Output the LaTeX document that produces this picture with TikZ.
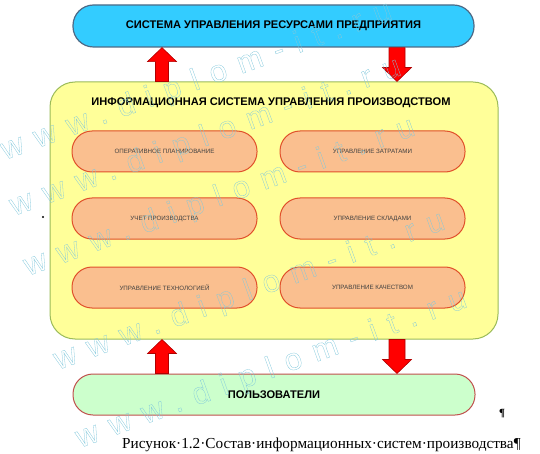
\documentclass[tikz,border=0pt]{standalone}
\usepackage{fontspec}
\setmainfont{Liberation Serif}
\newfontfamily\arialf{Liberation Sans}
\newfontfamily\wmfont[LetterSpace=40, FakeBold=0.9]{Liberation Sans}
\usetikzlibrary{calc}
\definecolor{erpfill}{HTML}{33CCFF}
\definecolor{erpline}{HTML}{4D6A87}
\definecolor{imsfill}{HTML}{FFFF99}
\definecolor{imsline}{HTML}{9BBB59}
\definecolor{pillfill}{HTML}{FABF8F}
\definecolor{pillline}{HTML}{E0502A}
\definecolor{pilltext}{HTML}{404040}
\definecolor{usrfill}{HTML}{CCFFCC}
\definecolor{usrline}{HTML}{C0504D}
\definecolor{arrfill}{HTML}{FF0000}
\definecolor{arrline}{HTML}{B00000}
\definecolor{wmcol}{HTML}{80C8DC}
\newcommand\blockup[3]{%
  \draw[blockarr] let \p1=(#2), \p2=(#3) in
    (#1pt-6.5pt,\y1) -- (#1pt-6.5pt,\y2-14pt) -- (#1pt-14.5pt,\y2-14pt) -- (#1pt,\y2)
    -- (#1pt+14.5pt,\y2-14pt) -- (#1pt+6.5pt,\y2-14pt) -- (#1pt+6.5pt,\y1) -- cycle;}
\newcommand\blockdown[3]{%
  \draw[blockarr] let \p1=(#2), \p2=(#3) in
    (#1pt-8pt,\y1) -- (#1pt-8pt,\y2+14pt) -- (#1pt-14.5pt,\y2+14pt) -- (#1pt,\y2)
    -- (#1pt+14.5pt,\y2+14pt) -- (#1pt+8pt,\y2+14pt) -- (#1pt+8pt,\y1) -- cycle;}
\newcommand\wmtext[1]{{\pgfsetfillopacity{0}\pgfsetstrokeopacity{1}#1}}
\tikzset{
  bigtitle/.style={font=\arialf\bfseries\fontsize{11.1}{13}\selectfont, text=black},
  erpbox/.style={bigtitle, draw=erpline, fill=erpfill, line width=1.2pt,
    rounded corners=20.5pt, minimum width=401pt, minimum height=42pt, inner sep=0pt},
  imsbox/.style={draw=imsline, fill=imsfill, line width=1pt, rounded corners=25pt,
    minimum width=448pt, minimum height=257pt, inner sep=0pt},
  imstitle/.style={bigtitle, inner sep=0pt},
  pill/.style={draw=pillline, fill=pillfill, line width=1pt, rounded corners=20pt,
    minimum width=185pt, minimum height=41pt, inner sep=0pt,
    font=\arialf\fontsize{6.2}{7}\selectfont, text=pilltext},
  usrbox/.style={bigtitle, draw=usrline, fill=usrfill, line width=1pt,
    rounded corners=20pt, minimum width=402pt, minimum height=41pt, inner sep=0pt},
  blockarr/.style={fill=arrfill, draw=arrline, line width=0.6pt},
  captxt/.style={font=\fontsize{15.25}{18}\selectfont, inner sep=0pt, anchor=base west},
  wm/.style={font=\wmfont\fontsize{31}{33}\selectfont, text=wmcol, inner sep=0pt,
    anchor=base west, rotate=20}
}
\begin{document}
\begin{tikzpicture}[x=1pt,y=-1pt]
\fill[white] (0,0) rectangle (540,454);
\useasboundingbox (0,0) rectangle (540,454);
\node[erpbox] (erp) at (273.5,26) {СИСТЕМА УПРАВЛЕНИЯ РЕСУРСАМИ ПРЕДПРИЯТИЯ};
\node[imsbox] (ims) at (274,210.5) {};
\node[imstitle] (imst) at (271,103) {ИНФОРМАЦИОННАЯ СИСТЕМА УПРАВЛЕНИЯ ПРОИЗВОДСТВОМ};
\node[pill] (p1) at (164.5,151.5) {ОПЕРАТИВНОЕ ПЛАНИРОВАНИЕ};
\node[pill] (p2) at (372.5,151.5) {УПРАВЛЕНИЕ ЗАТРАТАМИ};
\node[pill] (p3) at (164.5,218.5) {УЧЕТ ПРОИЗВОДСТВА};
\node[pill] (p4) at (372.5,218.5) {УПРАВЛЕНИЕ СКЛАДАМИ};
\node[pill] (p5) at (164.5,287.5) {УПРАВЛЕНИЕ ТЕХНОЛОГИЕЙ};
\node[pill] (p6) at (372.5,287.5) {УПРАВЛЕНИЕ КАЧЕСТВОМ};
\node[usrbox] (usr) at (274,394.5) {ПОЛЬЗОВАТЕЛИ};
\blockup{162}{ims.north}{erp.south}
\blockdown{397}{erp.south}{ims.north}
\blockup{162}{usr.north}{ims.south}
\blockdown{397}{ims.south}{usr.north}
\fill[black] (43,217) circle (1.2);
\node[font=\bfseries\fontsize{11}{12}\selectfont, inner sep=0pt] (pil) at (502,414) {¶};
\node[captxt] (cap) at (122,448) {Рисунок·1.2·Состав·информационных·систем·производства¶};
\node[wm] (wm1) at (5,160) {\wmtext{www.diplom-it.ru}};
\node[wm] (wm2) at (14,216) {\wmtext{www.diplom-it.ru}};
\node[wm] (wm3) at (28,276) {\wmtext{www.diplom-it.ru}};
\node[wm] (wm4) at (58,370) {\wmtext{www.diplom-it.ru}};
\node[wm] (wm5) at (80,448) {\wmtext{www.diplom-it.ru}};
\end{tikzpicture}
\end{document}
